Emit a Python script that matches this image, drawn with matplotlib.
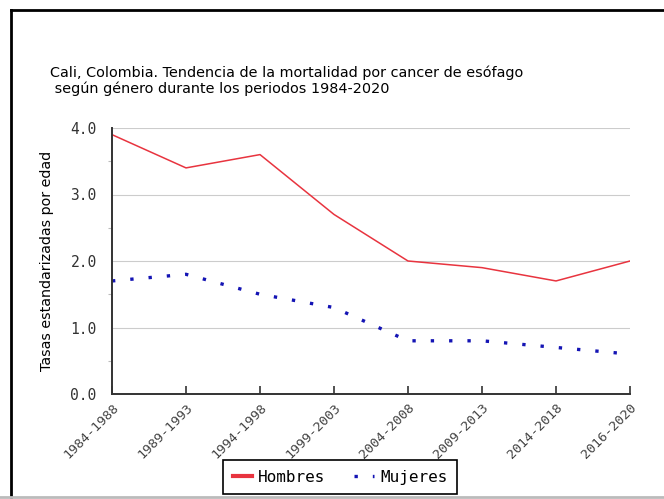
import matplotlib
matplotlib.use("Agg")
import matplotlib.pyplot as plt
from matplotlib.lines import Line2D

# data
periodos = ["1984-1988", "1989-1993", "1994-1998", "1999-2003",
            "2004-2008", "2009-2013", "2014-2018", "2016-2020"]
hombres = [3.9, 3.4, 3.6, 2.7, 2.0, 1.9, 1.7, 2.0]
mujeres = [1.7, 1.8, 1.5, 1.3, 0.8, 0.8, 0.7, 0.6]
y_ticks = [0.0, 1.0, 2.0, 3.0, 4.0]

titulo = ("Cali, Colombia. Tendencia de la mortalidad por cancer de esófago\n"
          " según género durante los periodos 1984-2020")

fig = plt.figure(figsize=(6.64, 4.99), dpi=100)
ax = fig.add_axes([112/664, 1-394/499, (630-112)/664, (394-128)/499])

x = list(range(len(periodos)))
ax.plot(x, hombres, color="#e8343f", lw=1.1, label="Hombres")
ax.plot(x, mujeres, color="#1414b4", lw=2.4, linestyle=(0, (1, 4.5)),
        label="Mujeres")

ax.set_xlim(0, len(periodos)-1)
ax.set_ylim(0, 4)
ax.set_yticks(y_ticks)
ax.set_yticklabels(["%.1f" % v for v in y_ticks], family="DejaVu Sans Mono",
                   fontsize=10.5, color="#333333")
ax.set_yticks([0.5, 1.5, 2.5, 3.5], minor=True)
ax.set_xticks(x)
ax.set_xticklabels(periodos, rotation=45, ha="right", rotation_mode="anchor",
                   family="DejaVu Sans Mono", fontsize=9.5, color="#444444")
ax.tick_params(axis="x", direction="in", length=6, width=1.2, color="#333333", pad=5)
ax.tick_params(axis="y", which="major", length=0, pad=11)
ax.tick_params(axis="y", which="minor", direction="out", length=3, width=0.8,
               color="#bbbbbb")
ax.grid(axis="y", color="#cccccc", lw=0.8)
for s in ["top", "right"]:
    ax.spines[s].set_visible(False)
for s in ["left", "bottom"]:
    ax.spines[s].set_color("#333333")
    ax.spines[s].set_linewidth(1.4)

ax.set_ylabel("Tasas estandarizadas por edad", fontsize=10.3, labelpad=12)
fig.text(50/664, 1-66/499, titulo, fontsize=10.4, va="top", ha="left",
         linespacing=1.05)

leg = ax.legend(loc="upper center", bbox_to_anchor=(340/664, 1-460/499),
                bbox_transform=fig.transFigure, ncol=2, frameon=True,
                fancybox=False, edgecolor="black", handlelength=1.2,
                columnspacing=1.8, handletextpad=0.4,
                prop={"family": "DejaVu Sans Mono", "size": 11.5},
                borderpad=0.6, borderaxespad=0)
leg.get_frame().set_linewidth(1.2)
leg.get_frame().set_facecolor("white")
leg.get_frame().set_alpha(1)
leg.legend_handles[0].set_linewidth(3)

# outer frame of the original widget
fig.add_artist(Line2D([11/664, 11/664], [1-10/499, 1-497/499], color="black", lw=2))
fig.add_artist(Line2D([11/664, 1.0], [1-10/499, 1-10/499], color="black", lw=2))
fig.add_artist(Line2D([0, 1.0], [1-497/499, 1-497/499], color="#bbbbbb", lw=2))

fig.savefig("out.png", dpi=100)
